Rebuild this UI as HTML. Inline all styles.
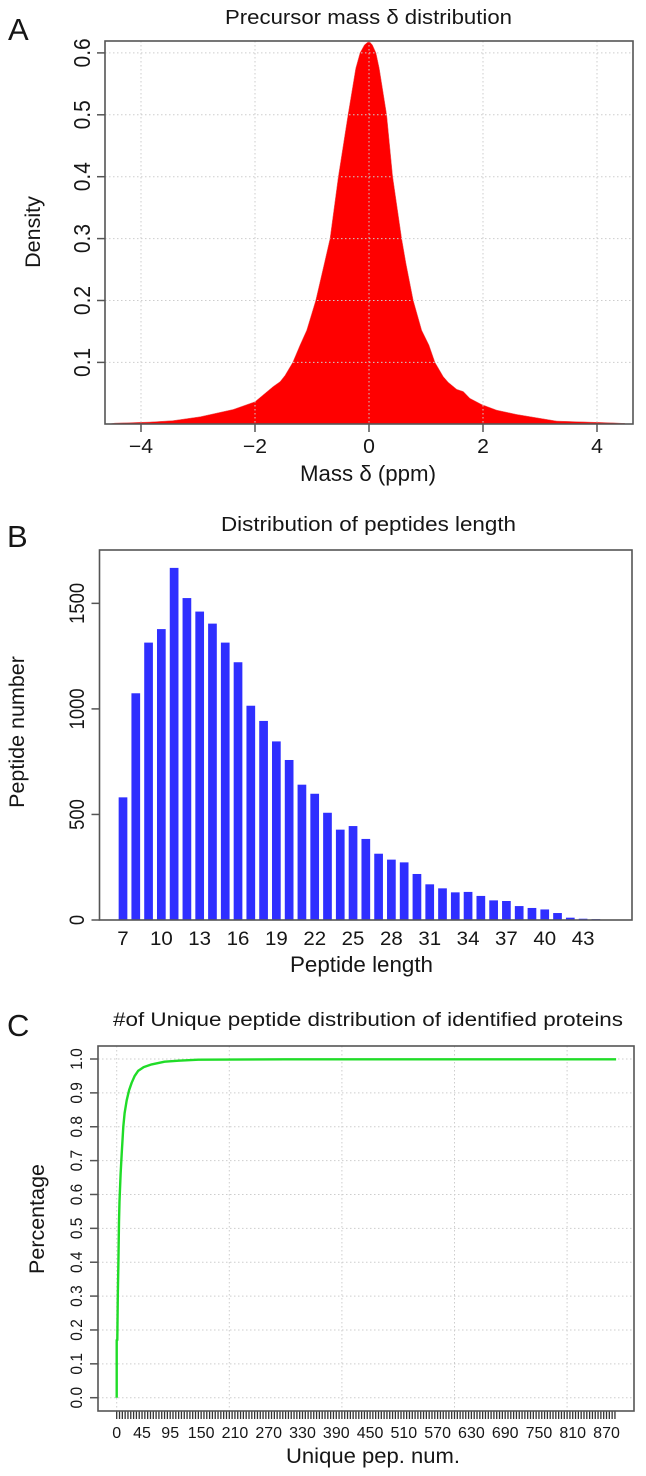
<!DOCTYPE html>
<html>
<head>
<meta charset="utf-8">
<title>Peptide identification QC charts</title>
<style>
html,body{margin:0;padding:0;background:#fff;}
svg{display:block;}
text{font-family:"Liberation Sans",sans-serif;fill:#161616;}
</style>
</head>
<body>
<svg id="fig" xmlns="http://www.w3.org/2000/svg" width="646" height="1476" viewBox="0 0 646 1476">
  <rect x="0" y="0" width="646" height="1476" fill="#fff"/>

  <text x="8" y="40" font-size="31">A</text>
  <text x="368.5" y="24" font-size="20.5" text-anchor="middle" textLength="287" lengthAdjust="spacingAndGlyphs">Precursor mass δ distribution</text>
  <text x="368" y="481" font-size="22.5" text-anchor="middle" textLength="136" lengthAdjust="spacingAndGlyphs">Mass δ (ppm)</text>
  <text transform="translate(40,232) rotate(-90)" font-size="21.5" text-anchor="middle">Density</text>
  <g id="panelA"></g>

  <text x="7" y="547" font-size="31">B</text>
  <text x="368.5" y="531" font-size="20" text-anchor="middle" textLength="295" lengthAdjust="spacingAndGlyphs">Distribution of peptides length</text>
  <text x="361.5" y="972" font-size="22" text-anchor="middle" textLength="143" lengthAdjust="spacingAndGlyphs">Peptide length</text>
  <text transform="translate(24,732) rotate(-90)" font-size="21.5" text-anchor="middle">Peptide number</text>
  <g id="panelB"></g>

  <text x="7" y="1036" font-size="31">C</text>
  <text x="368" y="1026" font-size="19.5" text-anchor="middle" textLength="510" lengthAdjust="spacingAndGlyphs">#of Unique peptide distribution of identified proteins</text>
  <text x="373" y="1463" font-size="21.5" text-anchor="middle" textLength="174" lengthAdjust="spacingAndGlyphs">Unique pep. num.</text>
  <text transform="translate(44,1219) rotate(-90)" font-size="21.5" text-anchor="middle">Percentage</text>
  <g id="panelC"></g>
</svg>

<script>
// Panel A data
var massDelta = [-4.6,-4.46,-3.84,-3.44,-2.96,-2.38,-2,-1.68,-1.56,-1.474,-1.339,-1.21,-1.093,-0.935,-0.784,-0.684,-0.538,-0.368,-0.234,-0.158,-0.08,0,0.06,0.123,0.18,0.31,0.416,0.574,0.649,0.777,0.925,1.053,1.158,1.304,1.39,1.538,1.655,1.77,1.977,2.24,2.59,3.0,3.29,3.7,4.23,4.49];
var densityValues = [0,0.002,0.0037,0.006,0.0123,0.024,0.0365,0.061,0.069,0.079,0.1,0.128,0.152,0.2,0.26,0.3,0.4,0.5,0.575,0.6,0.613,0.619,0.613,0.6,0.575,0.5,0.4,0.3,0.26,0.2,0.152,0.128,0.1,0.077,0.068,0.0565,0.053,0.042,0.032,0.023,0.016,0.0097,0.0053,0.004,0.0026,0.0015];
var aXTicks = [-4,-2,0,2,4];
var aXTickLabels = ["\u22124","\u22122","0","2","4"];
var aYTicks = [0.1,0.2,0.3,0.4,0.5,0.6];
var aYTickLabels = ["0.1","0.2","0.3","0.4","0.5","0.6"];

// Panel B data
var peptideLengths = [7,8,9,10,11,12,13,14,15,16,17,18,19,20,21,22,23,24,25,26,27,28,29,30,31,32,33,34,35,36,37,38,39,40,41,42,43,44];
var peptideCounts = [581,1074,1314,1378,1668,1525,1461,1404,1314,1221,1015,943,846,758,641,598,508,428,445,384,314,286,273,218,169,150,131,133,114,93,90,66,57,50,33,11,6,4];
var bXTickLabels = [7,10,13,16,19,22,25,28,31,34,37,40,43];
var bYTicks = [0,500,1000,1500];

// Panel C data
var uniquePeptides = [0,0,1,2,3,4,5,7,8.9,11.8,14,17.8,22,26.6,32,38,48,62,85,110,145,300,887];
var cumulativeShare = [0,0.17,0.17,0.3,0.4,0.52,0.58,0.66,0.72,0.8,0.84,0.878,0.908,0.93,0.95,0.965,0.976,0.984,0.992,0.995,0.998,0.999,0.999];
var cXTickLabels = [0,45,95,150,210,270,330,390,450,510,570,630,690,750,810,870];
var cGridValues = [0,200,400,600,800];
var cYTicks = [0,0.1,0.2,0.3,0.4,0.5,0.6,0.7,0.8,0.9,1];
var cYTickLabels = ["0.0","0.1","0.2","0.3","0.4","0.5","0.6","0.7","0.8","0.9","1.0"];
var cTickStep = 5;
var cTickMax = 885;

var NS = 'http://www.w3.org/2000/svg';
var AXIS = '#555';
var GRID = '#cdcdcd';

function line(parent, name, x1, y1, x2, y2, color, width, dash) {
  var el = document.createElementNS(NS, 'line');
  
  
  el.setAttribute('x1', x1);
  el.setAttribute('y1', y1);
  el.setAttribute('x2', x2);
  el.setAttribute('y2', y2);
  el.setAttribute('stroke', color);
  el.setAttribute('stroke-width', width);
  if (dash) el.setAttribute('stroke-dasharray', dash);
  parent.appendChild(el);
  return el;
}
function label(parent, name, x, y, str, size, rotated, sx) {
  var el = document.createElementNS(NS, 'text');
  
  
  el.setAttribute('font-size', size);
  el.setAttribute('text-anchor', 'middle');
  el.setAttribute('transform', 'translate(' + x + ',' + y + ') scale(' + (sx || 1) + ',1)' + (rotated ? ' rotate(-90)' : ''));
  el.textContent = str;
  parent.appendChild(el);
  return el;
}
function box(parent, name, x, y, w, h) {
  var el = document.createElementNS(NS, 'rect');
  
  
  el.setAttribute('x', x);
  el.setAttribute('y', y);
  el.setAttribute('width', w);
  el.setAttribute('height', h);
  el.setAttribute('fill', 'none');
  el.setAttribute('stroke', AXIS);
  el.setAttribute('stroke-width', 1.6);
  parent.appendChild(el);
}

/* ---------- Panel A ---------- */
(function () {
  var g = document.getElementById('panelA');
  var L = 105, R = 633, T = 41, B = 424;
  function x(v) { return 369 + v * 57; }
  function y(v) { return 424.3 - v * 619; }
  var pts = [];
  for (var i = 0; i < massDelta.length; i++) {
    pts.push(x(massDelta[i]).toFixed(1) + ',' + y(densityValues[i]).toFixed(1));
  }
  var area = document.createElementNS(NS, 'polygon');
  
  
  area.setAttribute('points', x(massDelta[0]).toFixed(1) + ',' + B + ' ' + pts.join(' ') + ' ' + x(massDelta[massDelta.length - 1]).toFixed(1) + ',' + B);
  area.setAttribute('fill', '#ff0000');
  area.setAttribute('stroke', '#e86a6a');
  area.setAttribute('stroke-width', 0.5);
  g.appendChild(area);
  aXTicks.forEach(function (v, i) {
    line(g, 'x-gridline', x(v), T, x(v), B, GRID, 1, '1.5 2.5');
    line(g, 'x-tick', x(v), B, x(v), B + 8, AXIS, 1.5);
    label(g, 'x-tick-label', x(v), 453, aXTickLabels[i], 20, false, 1.06);
  });
  aYTicks.forEach(function (v, i) {
    line(g, 'y-gridline', L, y(v), R, y(v), GRID, 1, '1.5 2.5');
    line(g, 'y-tick', L - 8, y(v), L, y(v), AXIS, 1.5);
    label(g, 'y-tick-label', 90, y(v), aYTickLabels[i], 21, true, 1.1);
  });
  box(g, 'plot-frame', L, T, R - L, B - T);
})();

/* ---------- Panel B ---------- */
(function () {
  var g = document.getElementById('panelB');
  var L = 99.5, R = 632, T = 550, B = 920;
  function x(v) { return 123 + (v - 7) * 12.78; }
  function y(v) { return 920 - v * 0.2111; }
  peptideLengths.forEach(function (len, i) {
    var el = document.createElementNS(NS, 'rect');
    
    
    el.setAttribute('x', (x(len) - 4.35).toFixed(2));
    el.setAttribute('y', y(peptideCounts[i]).toFixed(2));
    el.setAttribute('width', 8.7);
    el.setAttribute('height', (B - y(peptideCounts[i])).toFixed(2));
    el.setAttribute('fill', '#2f2fff');
    g.appendChild(el);
  });
  bXTickLabels.forEach(function (v) {
    label(g, 'x-tick-label', x(v), 945, String(v), 19.5, false, 1.05);
  });
  bYTicks.forEach(function (v) {
    line(g, 'y-tick', L - 8, y(v), L, y(v), AXIS, 1.5);
    label(g, 'y-tick-label', 84, y(v), String(v), 18.5, true, 1.15);
  });
  box(g, 'plot-frame', L, T, R - L, B - T);
})();

/* ---------- Panel C ---------- */
(function () {
  var g = document.getElementById('panelC');
  var L = 98, R = 634, T = 1046, B = 1411;
  function x(v) { return 116.7 + v * 0.563; }
  function y(v) { return 1397.7 - v * 338.7; }
  cGridValues.forEach(function (v) {
    line(g, 'x-gridline', x(v), T, x(v), B, GRID, 1, '1.5 2.5');
  });
  cYTicks.forEach(function (v, i) {
    line(g, 'y-gridline', L, y(v), R, y(v), GRID, 1, '1.5 2.5');
    line(g, 'y-tick', L - 8, y(v), L, y(v), AXIS, 1.5);
    label(g, 'y-tick-label', 82, y(v), cYTickLabels[i], 15.5, true, 1.05);
  });
  var pts = [];
  for (var i = 0; i < uniquePeptides.length; i++) {
    pts.push(x(uniquePeptides[i]).toFixed(1) + ',' + y(cumulativeShare[i]).toFixed(1));
  }
  var curve = document.createElementNS(NS, 'polyline');
  
  
  curve.setAttribute('points', pts.join(' '));
  curve.setAttribute('fill', 'none');
  curve.setAttribute('stroke', '#20dc28');
  curve.setAttribute('stroke-width', 2.4);
  curve.setAttribute('stroke-linejoin', 'round');
  g.appendChild(curve);
  for (var t = 0; t <= cTickMax; t += cTickStep) {
    line(g, 'x-tick', x(t), B, x(t), B + 8, '#333', 1.3);
  }
  cXTickLabels.forEach(function (v) {
    label(g, 'x-tick-label', x(v), 1438, String(v), 16, false, 1);
  });
  box(g, 'plot-frame', L, T, R - L, B - T);
})();
</script>
</body>
</html>
